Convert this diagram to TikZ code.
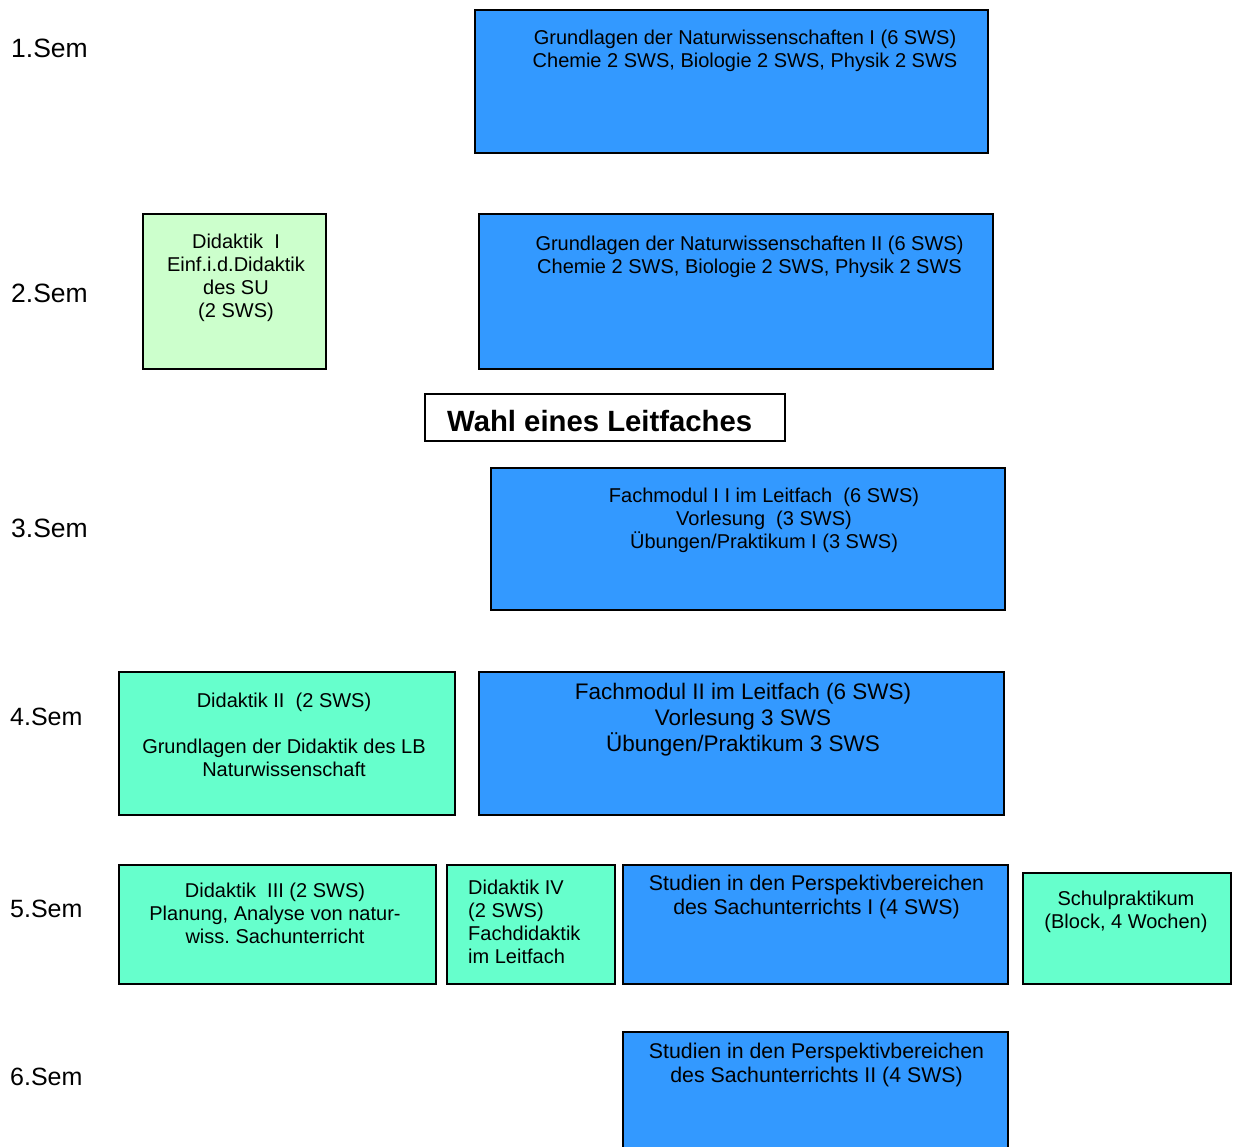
\documentclass[tikz,border=0pt]{standalone}
\usepackage{fontspec}
\setmainfont{Liberation Sans}
\frenchspacing
\definecolor{modblue}{HTML}{3399FF}
\definecolor{didgreen}{HTML}{CCFFCC}
\definecolor{didaqua}{HTML}{66FFCC}

\begin{document}
\begin{tikzpicture}[x=1pt,y=-1pt,
        modbox/.style={draw=black, line width=1.5pt, anchor=north west, inner sep=0pt, outer sep=0pt},
        modtext/.style={anchor=north, inner sep=0pt, align=center, font=\fontsize{20}{23}\selectfont},
        semlabel/.style={anchor=west, inner sep=0pt, font=\fontsize{26.5}{31}\selectfont},
        semsmall/.style={semlabel, font=\fontsize{25}{30}\selectfont}]
    \useasboundingbox (0,0) rectangle (1237,1147);

    % semester labels
    \node[semlabel] (sem1) at (11,48) {1.Sem};
    \node[semlabel] (sem2) at (11,293) {2.Sem};
    \node[semlabel] (sem3) at (11,528) {3.Sem};
    \node[semsmall] (sem4) at (10,717) {4.Sem};
    \node[semsmall] (sem5) at (10,909) {5.Sem};
    \node[semsmall] (sem6) at (10,1077) {6.Sem};

    % 1. and 2. semester
    \node[modbox, fill=modblue, minimum width=513pt, minimum height=143pt] (gnw1) at (475,10) {};
    \node[modtext] (gnw1txt) at (745,29.5) {Grundlagen der Naturwissenschaften I (6 SWS)\\Chemie 2 SWS, Biologie 2 SWS, Physik 2 SWS};
    \node[modbox, fill=didgreen, minimum width=183pt, minimum height=155pt] (did1) at (143,214) {};
    \node[modtext] (did1txt) at (236,233.5) {Didaktik\ \ I\\Einf.i.d.Didaktik\\des SU\\(2 SWS)};
    \node[modbox, fill=modblue, minimum width=514pt, minimum height=155pt] (gnw2) at (479,214) {};
    \node[modtext] (gnw2txt) at (749.5,235.5) {Grundlagen der Naturwissenschaften II (6 SWS)\\Chemie 2 SWS, Biologie 2 SWS, Physik 2 SWS};

    \node[modbox, fill=white, minimum width=360pt, minimum height=47pt] (wahl) at (425,394) {};
    \node[anchor=west, inner sep=0pt, font=\fontsize{29.3}{34}\selectfont\bfseries] (wahltxt) at (447,421) {Wahl eines Leitfaches};

    % 3. and 4. semester
    \node[modbox, fill=modblue, minimum width=514pt, minimum height=142pt] (fach1) at (491,468) {};
    \node[modtext] (fach1txt) at (764,487.5) {Fachmodul I I im Leitfach\ \ (6 SWS)\\Vorlesung\ \ (3 SWS)\\Übungen/Praktikum I (3 SWS)};
    \node[modbox, fill=didaqua, minimum width=336pt, minimum height=143pt] (did2) at (119,672) {};
    \node[modtext] (did2txt) at (284,692.5) {Didaktik II\ \ (2 SWS)\\[23pt]Grundlagen der Didaktik des LB\\Naturwissenschaft};
    \node[modbox, fill=modblue, minimum width=525pt, minimum height=143pt] (fach2) at (479,672) {};
    \node[modtext, font=\fontsize{22.5}{26}\selectfont] (fach2txt) at (743,682.5) {Fachmodul II im Leitfach (6 SWS)\\Vorlesung 3 SWS\\Übungen/Praktikum 3 SWS};

    % 5. semester
    \node[modbox, fill=didaqua, minimum width=317pt, minimum height=119pt] (did3) at (119,865) {};
    \node[modtext] (did3txt) at (275,882.5) {Didaktik\ \ III (2 SWS)\\Planung, Analyse von natur-\\wiss. Sachunterricht};
    \node[modbox, fill=didaqua, minimum width=168pt, minimum height=119pt] (did4) at (447,865) {};
    \node[modtext, anchor=north west, align=left] (did4txt) at (468,879.5) {Didaktik IV\\(2 SWS)\\Fachdidaktik\\im Leitfach};
    \node[modbox, fill=modblue, minimum width=385pt, minimum height=119pt] (persp1) at (623,865) {};
    \node[modtext, font=\fontsize{21.3}{24}\selectfont] (persp1txt) at (816.5,875) {Studien in den Perspektivbereichen\\des Sachunterrichts I (4 SWS)};
    \node[modbox, fill=didaqua, minimum width=208pt, minimum height=111pt] (prakt) at (1023,873) {};
    \node[modtext] (prakttxt) at (1126,890.5) {Schulpraktikum\\(Block, 4 Wochen)};

    % 6. semester
    \node[modbox, fill=modblue, minimum width=385pt, minimum height=130pt] (persp2) at (623,1032) {};
    \node[modtext, font=\fontsize{21.3}{24}\selectfont] (persp2txt) at (816.5,1043) {Studien in den Perspektivbereichen\\des Sachunterrichts II (4 SWS)};
\end{tikzpicture}
\end{document}
